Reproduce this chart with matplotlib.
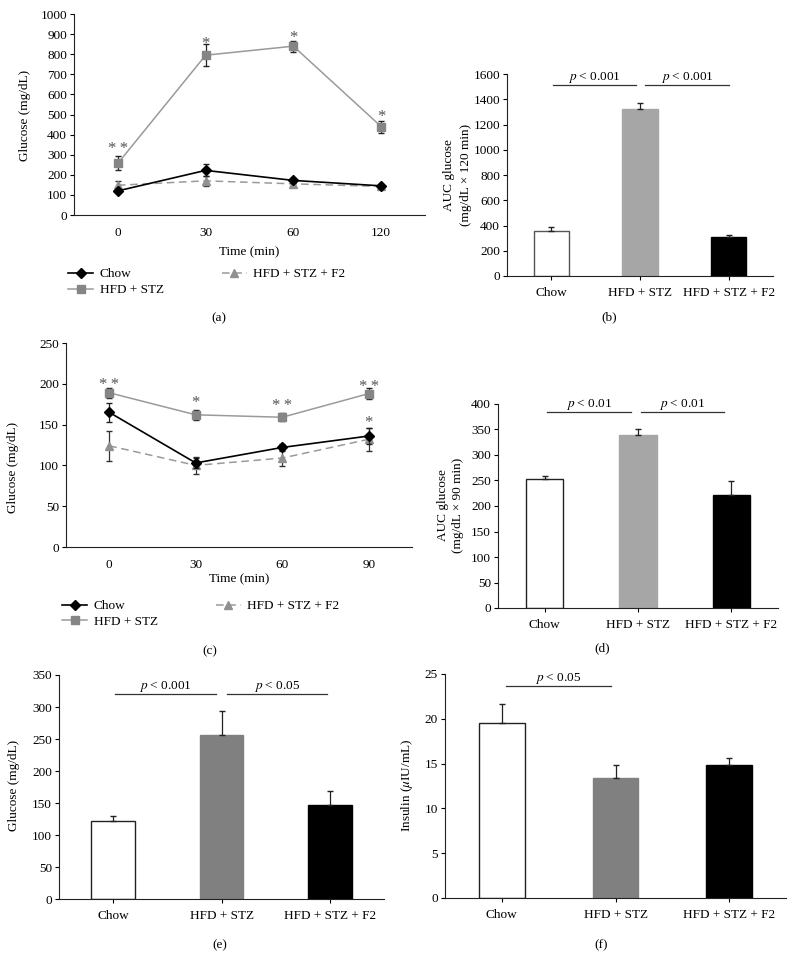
import numpy as np
import matplotlib
matplotlib.use("Agg")
import matplotlib.pyplot as plt
from matplotlib.lines import Line2D

plt.rcParams['font.family'] = ['Liberation Serif', 'DejaVu Serif']
plt.rcParams['font.size'] = 9.5
plt.rcParams['mathtext.fontset'] = 'stix'

W, H = 796, 956

groups = ["Chow", "HFD + STZ", "HFD + STZ + F2"]

# (a) OGTT glucose, mg/dL
times_a = ["0", "30", "60", "120"]
chow_a = [120, 222, 172, 145]
chow_a_err = [8, 30, 12, 8]
hfd_a = [257, 795, 840, 440]
hfd_a_err = [35, 55, 28, 30]
f2_a = [148, 170, 155, 142]
f2_a_err = [20, 25, 10, 8]
stars_a = ["* *", "*", "*", "*"]
stars_a_y = [330, 850, 880, 490]

# (b) AUC glucose 120 min
auc_b = [360, 1325, 305]
auc_b_err = [30, 45, 20]

# (c) ITT glucose, mg/dL
times_c = ["0", "30", "60", "90"]
chow_c = [165, 103, 122, 136]
chow_c_err = [12, 6, 4, 10]
hfd_c = [189, 162, 159, 188]
hfd_c_err = [6, 6, 5, 7]
f2_c = [124, 100, 109, 132]
f2_c_err = [18, 10, 10, 14]
stars_c = ["* *", "*", "* *", "* *", "*"]
stars_c_x = [0, 1, 2, 3, 3]
stars_c_y = [199, 177, 173, 196, 152]

# (d) AUC glucose 90 min
auc_d = [252, 340, 221]
auc_d_err = [6, 11, 28]

# (e) fasting glucose
glu_e = [122, 256, 147]
glu_e_err = [8, 37, 21]

# (f) insulin
ins_f = [19.5, 13.4, 14.8]
ins_f_err = [2.1, 1.4, 0.8]


def add_ax(fig, left, top, right, bottom):
    return fig.add_axes([left / W, 1 - bottom / H, (right - left) / W, (bottom - top) / H])


def style(ax):
    for s in ['top', 'right']:
        ax.spines[s].set_visible(False)
    for s in ['left', 'bottom']:
        ax.spines[s].set_linewidth(0.8)
        ax.spines[s].set_color('#222222')
    ax.tick_params(axis='y', direction='out', length=3, width=0.8, pad=2)


def ftext(fig, x, y, s, **kw):
    fig.text(x / W, 1 - y / H, s, ha='center', va='center', **kw)


chow_style = dict(color='black', marker='D', ms=5, lw=1.2)
hfd_style = dict(color='#9a9a9a', marker='s', ms=6, mfc='#858585', mec='#858585', lw=1.1)
f2_style = dict(color='#9a9a9a', marker='^', ms=6, mfc='#909090', mec='#909090', lw=1.1,
                ls=(0, (5, 3)))


def line_panel(ax, times, chow, chow_e, hfd, hfd_e, f2, f2_e, ymax, step):
    x = np.arange(len(times))
    ax.errorbar(x, chow, yerr=chow_e, ecolor='#222222', elinewidth=0.9, capsize=2.5,
                zorder=4, **chow_style)
    ax.errorbar(x, hfd, yerr=hfd_e, ecolor='#222222', elinewidth=0.9, capsize=2.5,
                zorder=3, **hfd_style)
    ax.errorbar(x, f2, yerr=f2_e, ecolor='#333333', elinewidth=0.9, capsize=2.5,
                zorder=3, **f2_style)
    ax.set_xlim(-0.5, len(times) - 0.5)
    ax.set_ylim(0, ymax)
    ax.set_yticks(np.arange(0, ymax + 1, step))
    ax.set_xticks(x)
    ax.set_xticklabels(times)
    ax.tick_params(axis='x', length=0, pad=9)
    style(ax)


def add_legend(ax, x, y, spacing):
    handles = [Line2D([], [], **chow_style), Line2D([], [], **hfd_style),
               Line2D([], [], **f2_style)]
    ax.legend(handles, groups, loc='upper left', bbox_to_anchor=(x / W, 1 - y / H),
              bbox_transform=ax.figure.transFigure, ncol=2, frameon=False,
              handlelength=1.9, handletextpad=0.5, columnspacing=4.4,
              labelspacing=spacing, borderaxespad=0, borderpad=0)


def bar_panel(ax, vals, errs, ymax, step, mid_color, edge0):
    x = np.arange(3)
    ax.bar(x, vals, width=0.4, color=['white', mid_color, 'black'],
           edgecolor=[edge0, mid_color, 'black'], linewidth=1.0, zorder=2)
    ax.errorbar(x, vals, yerr=[np.zeros(3), errs], fmt='none', ecolor='#222222',
                elinewidth=0.9, capsize=2.5, zorder=3)
    ax.set_xlim(-0.5, 2.5)
    ax.set_ylim(0, ymax)
    ax.set_yticks(np.arange(0, ymax + step / 2, step))
    ax.set_xticks(x)
    ax.set_xticklabels(groups)
    ax.tick_params(axis='x', direction='out', length=3, width=0.8, pad=5)
    style(ax)


def pbar(ax, x0, x1, y, label):
    ax.plot([x0, x1], [y, y], color='#333333', lw=0.9, clip_on=False)
    ax.text((x0 + x1) / 2, y, label, ha='center', va='bottom', clip_on=False)


def stars(ax, xs, ys, labels):
    for xi, yi, s in zip(xs, ys, labels):
        ax.text(xi, yi, s.replace(" ", "\u2009"), ha='center', va='center',
                color='#555555', fontsize=12)


fig = plt.figure(figsize=(W / 100, H / 100), dpi=100)

# (a)
ax = add_ax(fig, 74, 14, 425, 215)
line_panel(ax, times_a, chow_a, chow_a_err, hfd_a, hfd_a_err, f2_a, f2_a_err, 1000, 100)
stars(ax, range(4), stars_a_y, stars_a)
ax.set_xlabel("Time (min)", labelpad=5)
add_legend(ax, 68, 268, 0.3)
ftext(fig, 25, 115, "Glucose (mg/dL)", rotation=90)
ftext(fig, 219, 318, "(a)")

# (b)
ax = add_ax(fig, 507, 74, 773, 276)
bar_panel(ax, auc_b, auc_b_err, 1600, 200, '#a6a6a6', '#555555')
pbar(ax, 0.02, 0.96, 1515, "$\\it{p}$ < 0.001")
pbar(ax, 1.06, 2.0, 1515, "$\\it{p}$ < 0.001")
ftext(fig, 449, 175, "AUC glucose", rotation=90)
ftext(fig, 466, 175, "(mg/dL × 120 min)", rotation=90)
ftext(fig, 609, 317, "(b)")

# (c)
ax = add_ax(fig, 66, 343, 412, 547)
line_panel(ax, times_c, chow_c, chow_c_err, hfd_c, hfd_c_err, f2_c, f2_c_err, 250, 50)
stars(ax, stars_c_x, stars_c_y, stars_c)
ax.set_xlabel("Time (min)", labelpad=1)
add_legend(ax, 62, 600, 0.25)
ftext(fig, 13, 467, "Glucose (mg/dL)", rotation=90)
ftext(fig, 210, 651, "(c)")

# (d)
ax = add_ax(fig, 498, 404, 778, 608)
bar_panel(ax, auc_d, auc_d_err, 400, 50, '#a6a6a6', '#222222')
pbar(ax, 0.03, 0.92, 385, "$\\it{p}$ < 0.01")
pbar(ax, 1.03, 1.92, 385, "$\\it{p}$ < 0.01")
ftext(fig, 443, 505, "AUC glucose", rotation=90)
ftext(fig, 458, 505, "(mg/dL × 90 min)", rotation=90)
ftext(fig, 602, 648, "(d)")

# (e)
ax = add_ax(fig, 59, 675, 384, 899)
bar_panel(ax, glu_e, glu_e_err, 350, 50, '#808080', '#222222')
pbar(ax, 0.02, 0.95, 320, "$\\it{p}$ < 0.001")
pbar(ax, 1.05, 1.97, 320, "$\\it{p}$ < 0.05")
ftext(fig, 14, 785, "Glucose (mg/dL)", rotation=90)
ftext(fig, 220, 945, "(e)")

# (f)
ax = add_ax(fig, 445, 674, 786, 898)
bar_panel(ax, ins_f, ins_f_err, 25, 5, '#808080', '#222222')
pbar(ax, 0.04, 0.96, 23.7, "$\\it{p}$ < 0.05")
ftext(fig, 407, 785, "Insulin ($\\mu$IU/mL)", rotation=90)
ftext(fig, 601, 945, "(f)")

fig.savefig("out.png", dpi=100, facecolor='white')
